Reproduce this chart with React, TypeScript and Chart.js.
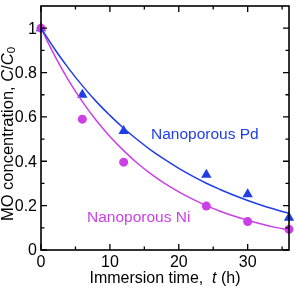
import React, { useEffect, useRef } from "react";
import { Chart, registerables } from "chart.js";

Chart.register(...registerables);

const timeHours = [0, 6, 12, 24, 30, 36];
const pdValues = [1.0, 0.7, 0.537, 0.339, 0.251, 0.145];
const niValues = [1.0, 0.59, 0.396, 0.198, 0.128, 0.093];

const fitTimes = [0, 2, 4, 6, 8, 10, 12, 14, 16, 18, 20, 22, 24, 26, 28, 30, 32, 34, 36];
const pdFit = [1, 0.905, 0.819, 0.741, 0.67, 0.607, 0.549, 0.497, 0.449, 0.407, 0.368, 0.333, 0.301, 0.273, 0.247, 0.223, 0.202, 0.183, 0.165];
const niFit = [1, 0.875, 0.765, 0.669, 0.585, 0.512, 0.448, 0.391, 0.342, 0.299, 0.262, 0.229, 0.2, 0.175, 0.153, 0.134, 0.117, 0.102, 0.09];

const xMajorTicks = [0, 10, 20, 30];
const xMinorTicks = [5, 15, 25, 35];
const yMajorTicks = [0, 0.2, 0.4, 0.6, 0.8, 1.0];
const yMinorTicks = [0.1, 0.3, 0.5, 0.7, 0.9];
const yTickLabels = ["0", "0.2", "0.4", "0.6", "0.8", "1"];
const xTickLabels = ["0", "10", "20", "30"];

const BLUE = "#1f3ee6";
const MAGENTA = "#cc3fe8";
const FONT = "'Liberation Sans', Arial, sans-serif";

const framePlugin = {
  id: "frame",
  afterDraw(chart: any) {
    const ctx = chart.ctx;
    const { left, right, top, bottom } = chart.chartArea;
    const xs = chart.scales.x;
    const ys = chart.scales.y;
    ctx.save();
    ctx.strokeStyle = "#000";
    ctx.lineWidth = 1.6;
    ctx.strokeRect(left, top, right - left, bottom - top);
    ctx.lineWidth = 1.3;
    const major = 6;
    const minor = 3.5;
    ctx.beginPath();
    const xt = (v: number, len: number) => {
      const p = xs.getPixelForValue(v);
      ctx.moveTo(p, bottom);
      ctx.lineTo(p, bottom - len);
      ctx.moveTo(p, top);
      ctx.lineTo(p, top + len);
    };
    const yt = (v: number, len: number) => {
      const p = ys.getPixelForValue(v);
      ctx.moveTo(left, p);
      ctx.lineTo(left + len, p);
      ctx.moveTo(right, p);
      ctx.lineTo(right - len, p);
    };
    xMajorTicks.forEach((v) => xt(v, major));
    xMinorTicks.forEach((v) => xt(v, minor));
    yMajorTicks.forEach((v) => yt(v, major));
    yMinorTicks.forEach((v) => yt(v, minor));
    ctx.stroke();

    ctx.fillStyle = "#000";
    ctx.font = `16px ${FONT}`;
    ctx.textAlign = "right";
    ctx.textBaseline = "middle";
    yMajorTicks.forEach((v, i) => {
      ctx.fillText(yTickLabels[i], left - 4, ys.getPixelForValue(v) + 1);
    });
    ctx.textAlign = "center";
    xMajorTicks.forEach((v, i) => {
      ctx.fillText(xTickLabels[i], xs.getPixelForValue(v), bottom + 13);
    });

    const drawRich = (parts: { t: string; f: string; dy?: number }[], cx: number, cy: number) => {
      let w = 0;
      parts.forEach((p) => {
        ctx.font = p.f;
        w += ctx.measureText(p.t).width;
      });
      let x = cx - w / 2;
      ctx.textAlign = "left";
      parts.forEach((p) => {
        ctx.font = p.f;
        ctx.fillText(p.t, x, cy + (p.dy || 0));
        x += ctx.measureText(p.t).width;
      });
    };
    const n = `16px ${FONT}`;
    const it = `italic 16px ${FONT}`;
    ctx.textBaseline = "middle";
    drawRich(
      [
        { t: "Immersion time,  ", f: n },
        { t: "t", f: it },
        { t: " (h)", f: n },
      ],
      (left + right) / 2,
      bottom + 29
    );

    const ny = `16.5px ${FONT}`;
    const ity = `italic 16.5px ${FONT}`;
    ctx.save();
    ctx.translate(8, (top + bottom) / 2 + 6);
    ctx.rotate(-Math.PI / 2);
    drawRich(
      [
        { t: "MO concentration, ", f: ny },
        { t: "C", f: ity },
        { t: "/", f: ny },
        { t: "C", f: ity },
        { t: "0", f: `11.5px ${FONT}`, dy: 4 },
      ],
      0,
      0
    );
    ctx.restore();

    ctx.font = `15.5px ${FONT}`;
    ctx.textAlign = "left";
    ctx.fillStyle = BLUE;
    ctx.fillText("Nanoporous Pd", 151, 135);
    ctx.fillStyle = MAGENTA;
    ctx.fillText("Nanoporous Ni", 87, 218);
    ctx.restore();
  },
};

export default function App() {
  const ref = useRef<HTMLCanvasElement | null>(null);
  useEffect(() => {
    document.body.style.margin = "0";
    const canvas = ref.current!;
    const chart = new Chart(canvas, {
      type: "scatter",
      data: {
        datasets: [
          {
            type: "line",
            data: fitTimes.map((t, i) => ({ x: t, y: pdFit[i] })),
            borderColor: BLUE,
            borderWidth: 1.5,
            pointRadius: 0,
            tension: 0.4,
            fill: false,
          },
          {
            type: "line",
            data: fitTimes.map((t, i) => ({ x: t, y: niFit[i] })),
            borderColor: MAGENTA,
            borderWidth: 1.5,
            pointRadius: 0,
            tension: 0.4,
            fill: false,
          },
          {
            data: timeHours.map((t, i) => ({ x: t, y: niValues[i] })),
            pointStyle: "circle",
            pointRadius: 4.5,
            backgroundColor: MAGENTA,
            borderColor: MAGENTA,
            borderWidth: 0,
            clip: false,
          } as any,
          {
            data: timeHours.map((t, i) => ({ x: t, y: pdValues[i] })),
            pointStyle: "triangle",
            pointRadius: 6,
            backgroundColor: BLUE,
            borderColor: BLUE,
            borderWidth: 0,
            clip: false,
          } as any,
        ],
      },
      options: {
        animation: false,
        responsive: false,
        maintainAspectRatio: false,
        layout: { padding: { left: 41, right: 6, top: 1, bottom: 42 } },
        plugins: { legend: { display: false }, tooltip: { enabled: false } },
        scales: {
          x: { type: "linear", min: 0, max: 36, display: false },
          y: { type: "linear", min: 0, max: 1.1, display: false },
        },
      },
      plugins: [framePlugin],
    });
    return () => chart.destroy();
  }, []);
  return (
    <div style={{ position: "absolute", left: 0, top: 0, width: 295, height: 292 }}>
      <canvas ref={ref} width={295} height={292} style={{ width: 295, height: 292 }} />
    </div>
  );
}
